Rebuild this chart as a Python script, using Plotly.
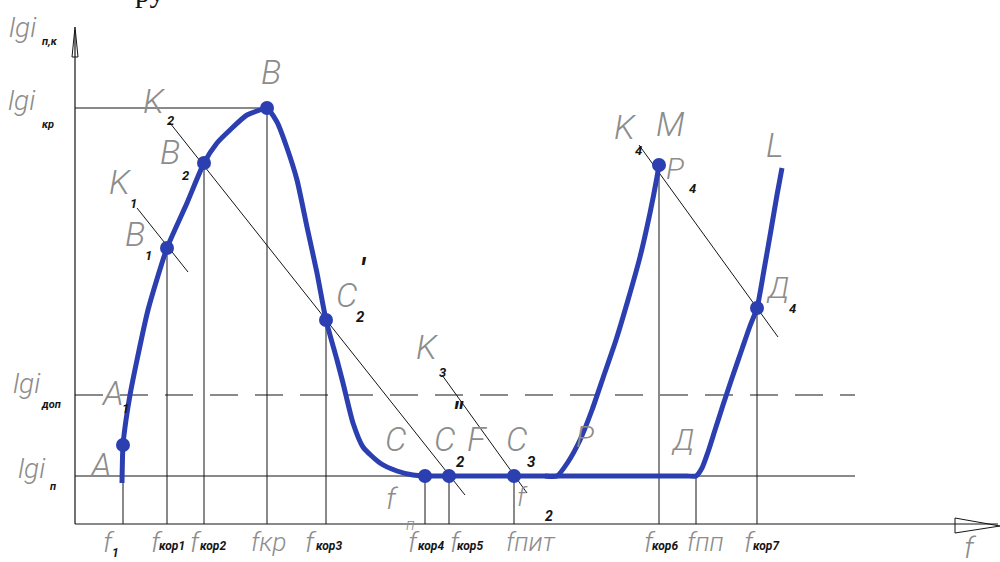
import plotly.graph_objects as go

# ---------------- data (f in drawing units, lg i in drawing units) ----------------
tick_names = ["1", "кор1", "кор2", "кр", "кор3", "кор4", "кор5", "пит", "кор6", "пп", "кор7"]
tick_f = [48, 92, 129, 192, 251, 350, 374, 439, 584, 621, 682]
tick_top = [48, 276, 361, 416, 204, 48, 48, 48, 359, 48, 216]   # where each vertical guide ends

level_names = ["п,к", "кр", "доп", "п"]
lg_kr = 416
lg_dop = 129
lg_n = 48

# main curve A - B - C - flat - Д - L
main_f = [47, 48, 51, 55, 62, 73, 92, 112, 129, 142, 155, 172, 192, 202, 212, 222, 232, 242, 251,
          262, 268, 278, 288, 305, 322, 338, 350, 374, 400, 439, 482, 520, 560, 600, 612, 621,
          627, 633, 640, 648, 657, 667, 675, 682, 689, 696, 702, 707]
main_lg = [41, 79, 104, 129, 164, 214, 276, 321, 361, 381, 394, 409, 415, 402, 376, 344, 297, 251, 204,
           164, 141, 101, 77, 61, 53, 49, 48, 48, 48, 48, 48, 48, 48, 48, 48, 48,
           56, 72, 94, 119, 146, 175, 198, 216, 254, 294, 329, 356]

# branch P - P4 (M)
branch_f = [470, 482, 493, 505, 517, 529, 541, 553, 565, 575, 582, 584]
branch_lg = [48, 48, 62, 84, 114, 149, 184, 224, 267, 311, 347, 359]

# marked points: A, B1, B2, B, C2', f_n, C2'', C3, P4, Д4
mark_f = [48, 92, 129, 192, 251, 350, 374, 439, 584, 682]
mark_lg = [79, 276, 361, 416, 204, 48, 48, 48, 359, 216]

# tangent lines K1..K4 (start, end)
tan_f = [[62, 113], [95, 390], [367, 452], [564, 703]]
tan_lg = [[316, 252], [401, 29], [149, 31], [379, 187]]

BLUE = "#2b3fb0"
GRAY = "#8c8c8c"
INK = "#151515"
X0, Y0 = 75, 524          # pixel position of the origin of the drawing


def px(x, y):
    """pixel position -> drawing units (for text placement only)"""
    return x - X0, Y0 - y


fig = go.Figure()

# axes lines
fig.add_trace(go.Scatter(x=[0, 0], y=[0, 494], mode="lines", line=dict(color=INK, width=1.2), hoverinfo="skip"))
fig.add_trace(go.Scatter(x=[0, 923], y=[0, 0], mode="lines", line=dict(color=INK, width=1.2), hoverinfo="skip"))

# level lines
fig.add_trace(go.Scatter(x=[0, 192], y=[lg_kr, lg_kr], mode="lines", line=dict(color=INK, width=1), hoverinfo="skip"))
fig.add_trace(go.Scatter(x=[0, 780], y=[lg_dop, lg_dop], mode="lines",
                         line=dict(color=INK, width=1, dash="28px,17px"), hoverinfo="skip"))
fig.add_trace(go.Scatter(x=[0, 780], y=[lg_n, lg_n], mode="lines", line=dict(color=INK, width=1), hoverinfo="skip"))

# vertical guides
for f, top in zip(tick_f, tick_top):
    fig.add_trace(go.Scatter(x=[f, f], y=[0, top], mode="lines", line=dict(color=INK, width=1), hoverinfo="skip"))

# tangents
for tf, tl in zip(tan_f, tan_lg):
    fig.add_trace(go.Scatter(x=tf, y=tl, mode="lines", line=dict(color=INK, width=1), hoverinfo="skip"))

# curves
fig.add_trace(go.Scatter(x=main_f, y=main_lg, mode="lines", line=dict(color=BLUE, width=5, shape="spline", smoothing=0.6),
                         hoverinfo="skip"))
fig.add_trace(go.Scatter(x=branch_f, y=branch_lg, mode="lines", line=dict(color=BLUE, width=5, shape="spline", smoothing=0.6),
                         hoverinfo="skip"))
fig.add_trace(go.Scatter(x=mark_f, y=mark_lg, mode="markers", marker=dict(color=BLUE, size=14), hoverinfo="skip"))

# arrow heads (open)
fig.add_shape(type="path", path="M -3 467 L 0 497 L 3 467 Z", line=dict(color=INK, width=1), xref="x", yref="y")
fig.add_shape(type="path", path="M 880 6 L 925 -2 L 880 -9 Z", line=dict(color=INK, width=1), xref="x", yref="y")

ann = []
FAM = "Roboto, Liberation Sans, sans-serif"
BIG = dict(family=FAM, color=GRAY, size=34, style="italic", weight=300)
SUB = dict(family=FAM, color=INK, size=13, style="italic", weight=700)


def text(t, x, y, font):
    xx, yy = px(x, y)
    ann.append(dict(x=xx, y=yy, text=t, showarrow=False, xanchor="center", yanchor="middle",
                    font=font, xref="x", yref="y"))


def big(t, x, y, size=34):
    f = dict(BIG)
    f["size"] = size
    text(t, x, y, f)


def sub(t, x, y, size=13):
    f = dict(SUB)
    f["size"] = size
    text(t, x, y, f)


# y-axis level labels
big("lgi", 23, 27, 28); sub(level_names[0], 50, 41, 11)
big("lgi", 22, 100, 28); sub(level_names[1], 48, 124, 11)
big("lgi", 27, 383, 28); sub(level_names[2], 51, 404, 11)
big("lgi", 32, 468, 28); sub(level_names[3], 53, 486, 11)

# point labels
big("A", 100, 465)
big("A", 112, 393); sub("1", 125, 408)
big("K", 120, 182); sub("1", 133, 203)
big("B", 135, 234); sub("1", 148, 255)
big("K", 154, 101); sub("2", 170, 120)
big("B", 170, 152); sub("2", 185, 175)
big("B", 271, 72)
big("C", 346, 295); sub("2", 360, 317, 15); sub("′", 363, 268, 30)
big("K", 427, 347); sub("3", 443, 372)
big("C", 395, 439)
big("C", 444, 439); sub("2", 460, 462, 15); sub("″", 458, 412, 30)
big("F", 477, 439)
big("C", 516, 439); sub("3", 531, 462, 15)
big("f", 392, 498, 30); big("п", 410, 524, 16)
big("f", 522, 497, 26); sub("2", 549, 516, 14)
big("P", 585, 436, 30)
big("Д", 682, 439, 30)
big("K", 625, 127); sub("4", 638, 150)
big("M", 670, 124)
big("P", 675, 168, 30); sub("4", 692, 188)
big("L", 774, 145)
big("Д", 777, 287, 30); sub("4", 792, 308)
big("f", 970, 547, 30)

# x tick labels
tick_pos = {"1": (109, 115, 553), "кор1": (157, 172, 546), "кор2": (196, 213, 546), "кор3": (311, 329, 546),
            "кор4": (414, 431, 546), "кор5": (456, 470, 546), "кор6": (650, 665, 546), "кор7": (750, 766, 546)}
full_pos = {"кр": 268, "пит": 531, "пп": 705}
for name in tick_names:
    if name in tick_pos:
        fx, sx, sy = tick_pos[name]
        big("f", fx, 542, 28)
        sub(name, sx, sy, 12)
    else:
        big("f" + name, full_pos[name], 542, 26)

# cut-off caption at very top
ann.append(dict(x=0.15, y=1.0, xref="paper", yref="paper", text="ру", showarrow=False,
                xanchor="center", yanchor="bottom", yshift=-10,
                font=dict(family="Liberation Serif, serif", size=30, color="#111")))

fig.update_layout(
    width=1000, height=562, margin=dict(l=0, r=0, t=0, b=0),
    paper_bgcolor="white", plot_bgcolor="white", showlegend=False,
    xaxis=dict(range=[-75, 925], visible=False, fixedrange=True),
    yaxis=dict(range=[-38, 524], visible=False, fixedrange=True),
    annotations=ann,
)

fig.write_html("out.html", config={"displayModeBar": False},
               post_script="document.body.style.margin='0';document.body.style.overflow='hidden';")
